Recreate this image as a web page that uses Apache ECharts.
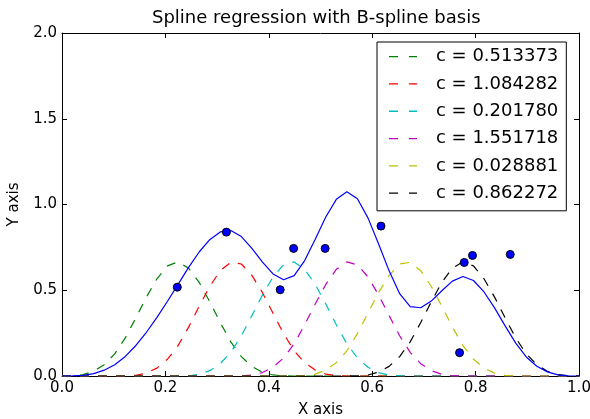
<!DOCTYPE html>
<html>
<head>
<meta charset="utf-8">
<title>Spline regression with B-spline basis</title>
<script src="https://cdn.jsdelivr.net/npm/echarts@6/dist/echarts.min.js"></script>
<style>
  html, body { margin: 0; padding: 0; background: #fff; }
  #chart { width: 590px; height: 419px; }
</style>
</head>
<body>
<div id="chart"></div>
<script>
// Sample positions along x (50 evenly spaced points on [0, 1])
var xs = [0, 0.0204, 0.0408, 0.0612, 0.0816, 0.1020, 0.1224, 0.1429, 0.1633, 0.1837,
  0.2041, 0.2245, 0.2449, 0.2653, 0.2857, 0.3061, 0.3265, 0.3469, 0.3673, 0.3878,
  0.4082, 0.4286, 0.4490, 0.4694, 0.4898, 0.5102, 0.5306, 0.5510, 0.5714, 0.5918,
  0.6122, 0.6327, 0.6531, 0.6735, 0.6939, 0.7143, 0.7347, 0.7551, 0.7755, 0.7959,
  0.8163, 0.8367, 0.8571, 0.8776, 0.8980, 0.9184, 0.9388, 0.9592, 0.9796, 1.0];

// Fitted coefficients, one per basis function
var coefs = [0.513373, 1.084282, 0.201780, 1.551718, 0.028881, 0.862272];

// Basis functions sampled at xs
var basis1 = [0, 0.001, 0.008, 0.028, 0.066, 0.129, 0.222, 0.339, 0.460, 0.567,
  0.642, 0.666, 0.629, 0.546, 0.433, 0.312, 0.199, 0.113, 0.056, 0.022,
  0.006, 0.0005, 0, 0, 0, 0, 0, 0, 0, 0,
  0, 0, 0, 0, 0, 0, 0, 0, 0, 0,
  0, 0, 0, 0, 0, 0, 0, 0, 0, 0];
var basis2 = [0, 0, 0, 0, 0, 0, 0.0002, 0.004, 0.017, 0.046,
  0.098, 0.177, 0.285, 0.407, 0.522, 0.614, 0.663, 0.653, 0.587, 0.486,
  0.366, 0.247, 0.147, 0.078, 0.035, 0.011, 0.002, 0, 0, 0,
  0, 0, 0, 0, 0, 0, 0, 0, 0, 0,
  0, 0, 0, 0, 0, 0, 0, 0, 0, 0];
var basis3 = [0, 0, 0, 0, 0, 0, 0, 0, 0, 0,
  0, 0, 0.001, 0.010, 0.031, 0.072, 0.138, 0.235, 0.352, 0.473,
  0.578, 0.648, 0.665, 0.622, 0.534, 0.420, 0.299, 0.188, 0.105, 0.051,
  0.020, 0.005, 0.0003, 0, 0, 0, 0, 0, 0, 0,
  0, 0, 0, 0, 0, 0, 0, 0, 0, 0];
var basis4 = [0, 0, 0, 0, 0, 0, 0, 0, 0, 0,
  0, 0, 0, 0, 0, 0, 0, 0.0003, 0.005, 0.020,
  0.051, 0.105, 0.188, 0.299, 0.420, 0.534, 0.622, 0.665, 0.648, 0.578,
  0.473, 0.352, 0.235, 0.138, 0.072, 0.031, 0.010, 0.001, 0, 0,
  0, 0, 0, 0, 0, 0, 0, 0, 0, 0];
var basis5 = [0, 0, 0, 0, 0, 0, 0, 0, 0, 0,
  0, 0, 0, 0, 0, 0, 0, 0, 0, 0,
  0, 0, 0, 0.002, 0.011, 0.035, 0.078, 0.147, 0.247, 0.366,
  0.486, 0.587, 0.653, 0.663, 0.614, 0.522, 0.407, 0.285, 0.177, 0.098,
  0.046, 0.017, 0.004, 0.0002, 0, 0, 0, 0, 0, 0];
var basis6 = [0, 0, 0, 0, 0, 0, 0, 0, 0, 0,
  0, 0, 0, 0, 0, 0, 0, 0, 0, 0,
  0, 0, 0, 0, 0, 0, 0, 0, 0.0005, 0.006,
  0.022, 0.056, 0.113, 0.199, 0.312, 0.433, 0.546, 0.629, 0.666, 0.642,
  0.567, 0.460, 0.339, 0.222, 0.129, 0.066, 0.028, 0.008, 0.001, 0];

// Regression curve sampled at xs
var fitted = [0, 0.001, 0.004, 0.014, 0.034, 0.066, 0.114, 0.178, 0.255, 0.342,
  0.436, 0.534, 0.633, 0.723, 0.795, 0.840, 0.849, 0.813, 0.744, 0.664,
  0.595, 0.561, 0.585, 0.673, 0.797, 0.927, 1.030, 1.074, 1.034, 0.922,
  0.771, 0.613, 0.480, 0.405, 0.398, 0.437, 0.497, 0.553, 0.580, 0.557,
  0.490, 0.397, 0.292, 0.192, 0.111, 0.057, 0.024, 0.007, 0.001, 0];

// Observed samples
var obsX = [0.223, 0.318, 0.422, 0.448, 0.509, 0.617, 0.769, 0.778, 0.794, 0.867];
var obsY = [0.518, 0.839, 0.503, 0.744, 0.744, 0.874, 0.136, 0.662, 0.703, 0.709];

// Axis ticks
var xTicks = [0.0, 0.2, 0.4, 0.6, 0.8, 1.0];
var yTicks = [0.0, 0.5, 1.0, 1.5, 2.0];

var basisSets = [basis1, basis2, basis3, basis4, basis5, basis6];
var basisColors = ['#008000', '#ff0000', '#00bfbf', '#bf00bf', '#bfbf00', '#000000'];
var FONT = 'DejaVu Sans';
// Two-dash legend key drawn as a filled path
var DASH_KEY = 'path://M0,0H9V1.3H0ZM20,0H28V1.3H20Z';

function pairs(xv, yv) {
  return xv.map(function (x, i) { return [x, yv[i]]; });
}

var basisSeries = basisSets.map(function (vals, i) {
  return {
    type: 'line',
    name: 'c = ' + coefs[i].toFixed(6),
    data: pairs(xs, vals),
    symbol: 'none',
    lineStyle: { color: basisColors[i], width: 1.2, type: [9, 9] },
    itemStyle: { color: basisColors[i] },
    z: 2
  };
});

function axisCommon(min, max, step) {
  return {
    type: 'value', min: min, max: max, interval: step,
    axisLine: { show: true, onZero: false, lineStyle: { color: '#000', width: 1 } },
    axisTick: { show: true, inside: true, length: 5, lineStyle: { color: '#000', width: 1 } },
    splitLine: { show: false }
  };
}

var xStep = xTicks[1] - xTicks[0];
var yStep = yTicks[1] - yTicks[0];

var xBottom = Object.assign(axisCommon(xTicks[0], xTicks[xTicks.length - 1], xStep), {
  position: 'bottom',
  name: 'X axis', nameLocation: 'middle', nameGap: 27,
  nameTextStyle: { fontFamily: FONT, fontSize: 15, color: '#000' },
  axisLabel: { show: true, margin: 5, fontFamily: FONT, fontSize: 15, color: '#000',
    showMinLabel: true, showMaxLabel: true,
    formatter: function (v) { return v.toFixed(1); } }
});
var xTop = Object.assign(axisCommon(xTicks[0], xTicks[xTicks.length - 1], xStep), {
  position: 'top', axisLabel: { show: false }
});
var yLeft = Object.assign(axisCommon(yTicks[0], yTicks[yTicks.length - 1], yStep), {
  position: 'left',
  name: 'Y axis', nameLocation: 'middle', nameGap: 40,
  nameTextStyle: { fontFamily: FONT, fontSize: 15, color: '#000' },
  axisLabel: { show: true, margin: 5, fontFamily: FONT, fontSize: 15, color: '#000',
    showMinLabel: true, showMaxLabel: true,
    formatter: function (v) { return v.toFixed(1); } }
});
var yRight = Object.assign(axisCommon(yTicks[0], yTicks[yTicks.length - 1], yStep), {
  position: 'right', axisLabel: { show: false }
});

var chart = echarts.init(document.getElementById('chart'), null, { renderer: 'canvas' });
chart.setOption({
  animation: false,
  backgroundColor: '#fff',
  textStyle: { fontFamily: FONT },
  title: {
    text: 'Spline regression with B-spline basis',
    left: 152, top: 9, padding: 0,
    textStyle: { fontFamily: FONT, fontSize: 18, fontWeight: 'normal', color: '#000' }
  },
  grid: { left: 62, top: 33, right: 11, bottom: 43, containLabel: false, outerBoundsMode: 'none' },
  xAxis: [xBottom, xTop],
  yAxis: [yLeft, yRight],
  legend: {
    data: basisSeries.map(function (s) { return { name: s.name, icon: DASH_KEY }; }),
    orient: 'vertical',
    left: 377, top: 42,
    padding: [1, 8, 4, 12],
    itemGap: 0,
    itemWidth: 28, itemHeight: 1.3,
    symbolKeepAspect: false,
    selectedMode: false,
    backgroundColor: '#fff',
    borderColor: '#000', borderWidth: 1, borderRadius: 0,
    textStyle: { fontFamily: FONT, fontSize: 18, color: '#000', lineHeight: 27.3,
      padding: [0, 0, 0, 14] }
  },
  series: basisSeries.concat([
    {
      type: 'line',
      name: 'fit',
      data: pairs(xs, fitted),
      symbol: 'none',
      lineStyle: { color: '#0000ff', width: 1.2 },
      itemStyle: { color: '#0000ff' },
      z: 3
    },
    {
      type: 'scatter',
      name: 'samples',
      data: pairs(obsX, obsY),
      symbol: 'circle',
      symbolSize: 8,
      itemStyle: { color: '#0000ff', opacity: 1, borderColor: '#000', borderWidth: 1 },
      z: 4
    }
  ])
});
</script>
</body>
</html>
